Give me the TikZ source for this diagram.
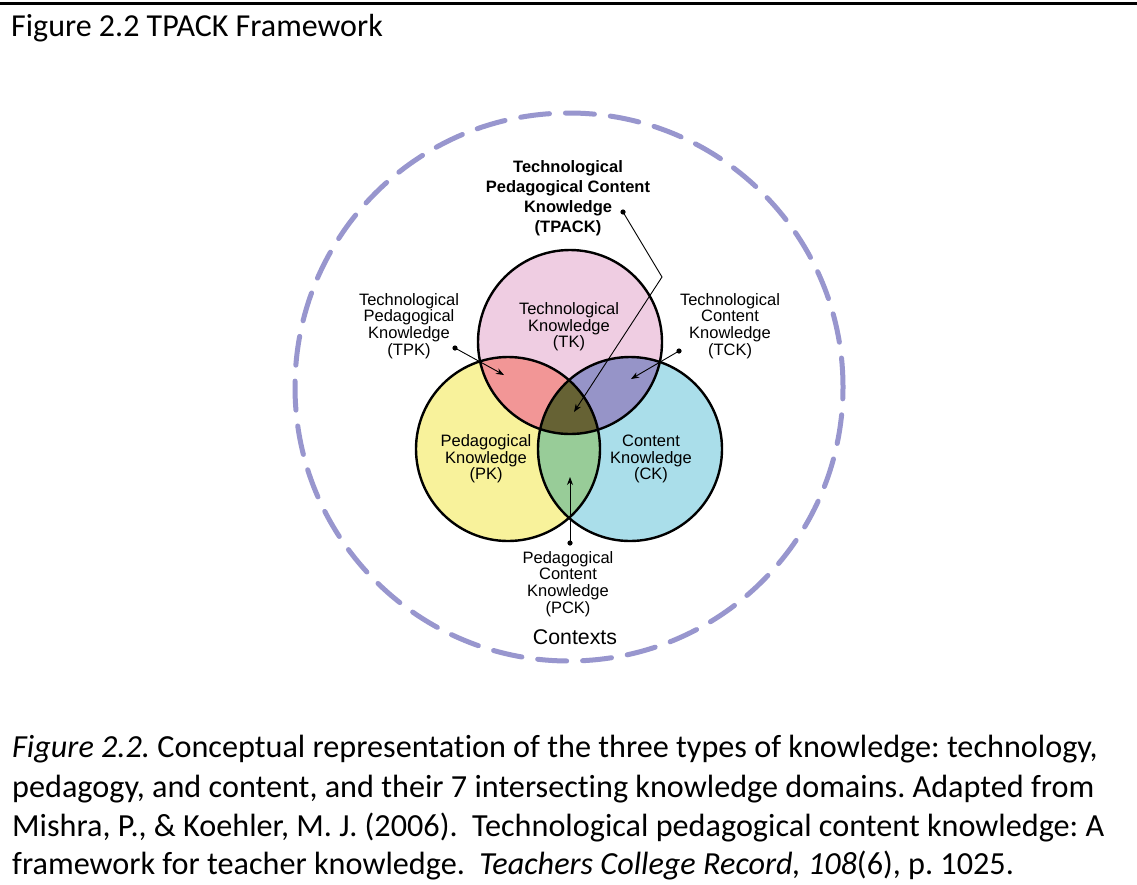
\documentclass[tikz,border=0pt]{standalone}
\usepackage{fontspec}
\setmainfont[Ligatures={NoCommon}]{Carlito}
\newfontfamily\arialf{Liberation Sans}
\usetikzlibrary{arrows.meta}
\frenchspacing
\definecolor{tkcol}{HTML}{EFCDE2}
\definecolor{pkcol}{HTML}{F8F29B}
\definecolor{ckcol}{HTML}{AADEEA}
\definecolor{tpkcol}{HTML}{F29696}
\definecolor{tckcol}{HTML}{9694C8}
\definecolor{pckcol}{HTML}{98CC98}
\definecolor{tpackcol}{HTML}{666234}
\definecolor{ctxcol}{HTML}{9896CE}
\begin{document}
\begin{tikzpicture}[x=1pt,y=-1pt,
  lbl/.style={align=center,inner sep=0pt,font=\arialf\fontsize{16.5}{16.7}\selectfont},
  blbl/.style={align=center,inner sep=0pt,font=\arialf\bfseries\fontsize{16.5}{20}\selectfont},
  captionline/.style={anchor=base west,inner sep=0pt,font=\frenchspacing\fontsize{32.2}{39}\selectfont},
  ring/.style={draw=black,line width=2.4pt},
  pointer/.style={line width=0.9pt,-{Stealth[length=8pt,width=6pt]}},
  dotmark/.style={fill=black}]
\useasboundingbox (0,0) rectangle (1137,884);
\fill[white] (0,0) rectangle (1137,884);
\draw[line width=3pt] (0,3.5) -- (1137,3.5);
\node[anchor=base west,inner sep=0pt,font=\fontsize{32}{36}\selectfont] (title) at (11,36) {Figure 2.2 TPACK Framework};
% contexts ring
\draw[ctxcol,line width=5pt,line cap=round,dash pattern=on 29pt off 16pt] (569,387) circle[radius=274pt];
% circles
\coordinate (T) at (570,342);
\coordinate (P) at (508,449);
\coordinate (C) at (630,449);
\fill[tkcol] (T) circle[radius=92pt];
\fill[pkcol] (P) circle[radius=92pt];
\fill[ckcol] (C) circle[radius=92pt];
\begin{scope}
  \clip (T) circle[radius=92pt];
  \fill[tpkcol] (P) circle[radius=92pt];
  \fill[tckcol] (C) circle[radius=92pt];
  \clip (P) circle[radius=92pt];
  \fill[tpackcol] (C) circle[radius=92pt];
\end{scope}
\begin{scope}
  \clip (P) circle[radius=92pt];
  \clip (C) circle[radius=92pt];
  \fill[pckcol] (P) circle[radius=92pt];
  \clip (T) circle[radius=92pt];
  \fill[tpackcol] (C) circle[radius=92pt];
\end{scope}
\draw[ring] (T) circle[radius=92pt];
\draw[ring] (P) circle[radius=92pt];
\draw[ring] (C) circle[radius=92pt];
% labels
\node[blbl] (tpack) at (568,198) {Technological\\Pedagogical Content\\Knowledge\\(TPACK)};
\node[lbl] (tk) at (569,327) {Technological\\Knowledge\\(TK)};
\node[lbl] (pk) at (486,459) {Pedagogical\\Knowledge\\(PK)};
\node[lbl] (ck) at (651,459) {Content\\Knowledge\\(CK)};
\node[lbl] (tpk) at (409,326) {Technological\\Pedagogical\\Knowledge\\(TPK)};
\node[lbl] (tck) at (730,326) {Technological\\Content\\Knowledge\\(TCK)};
\node[lbl] (pck) at (568,584) {Pedagogical\\Content\\Knowledge\\(PCK)};
\node[inner sep=0pt,font=\arialf\fontsize{21.3}{24}\selectfont] (ctx) at (575,637) {Contexts};
% pointers
\coordinate (tpkdot) at (455,348);
\coordinate (tpktip) at (504,375);
\coordinate (tckdot) at (679,351);
\coordinate (tcktip) at (631,379);
\coordinate (tpackdot) at (623,212);
\coordinate (tpackbend) at (662,277);
\coordinate (tpacktip) at (574,412);
\coordinate (pckdot) at (570,543);
\coordinate (pcktip) at (570,477);
\draw[pointer] (tpkdot) -- (tpktip);
\draw[pointer] (tckdot) -- (tcktip);
\draw[pointer] (tpackdot) -- (tpackbend) -- (tpacktip);
\draw[pointer] (pckdot) -- (pcktip);
\foreach \d in {tpkdot,tckdot,tpackdot,pckdot} \fill[dotmark] (\d) circle[radius=2.6pt];
% caption
\node[captionline] (cap1) at (12,757) {\textit{Figure 2.2.} Conceptual representation of the three types of knowledge: technology,};
\node[captionline] (cap2) at (12,797) {pedagogy, and content, and their 7 intersecting knowledge domains. Adapted from};
\node[captionline] (cap3) at (12,836) {Mishra, P., \& Koehler, M. J. (2006).\ \ Technological pedagogical content knowledge: A};
\node[captionline] (cap4) at (12,874) {framework for teacher knowledge.\ \ \textit{Teachers College Record, 108}(6), p. 1025.};
\end{tikzpicture}
\end{document}
